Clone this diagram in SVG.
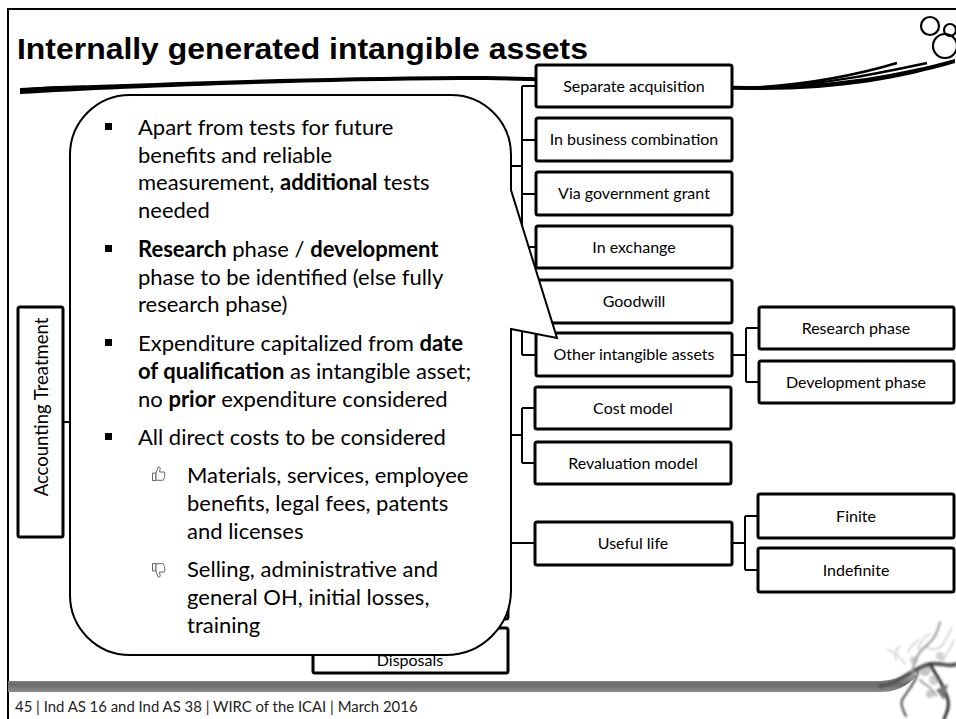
<svg xmlns="http://www.w3.org/2000/svg" width="956" height="719" viewBox="0 0 956 719">
  <defs>
    <style>
      .box{fill:#fff;stroke:#000;stroke-width:3}
      .lbl{font-family:Lato,'Liberation Sans',sans-serif;font-size:16px;fill:#000;text-anchor:middle}
      .root{font-size:18.5px}
      .conn{fill:none;stroke:#000;stroke-width:2}
      .body{font-family:Lato,'Liberation Sans',sans-serif;font-size:22px;fill:#000}
      .b{font-weight:bold}
      .icon{fill:#fff;stroke:#555;stroke-width:0.9;stroke-linejoin:round}
      .twig{fill:none;stroke-linecap:round}
    </style>
    <linearGradient id="barGrad" x1="0" y1="0" x2="0" y2="1">
      <stop offset="0" stop-color="#cfcfcf"/>
      <stop offset="0.3" stop-color="#9a9a9a"/>
      <stop offset="0.65" stop-color="#6a6a6a"/>
      <stop offset="1" stop-color="#8c8c8c"/>
    </linearGradient>
    <filter id="soft" x="-10%" y="-10%" width="120%" height="120%">
      <feGaussianBlur stdDeviation="0.9"/>
    </filter>
    <g id="thumb">
      <path class="icon" d="M0.5,7 H4 V14.5 H0.5 Z"/>
      <path class="icon" d="M4,7 L6,1.2 Q7.6,0 8.2,2 L7.6,6 H12 Q13.6,6.6 12.6,8 Q13.6,9.1 12.4,10.2 Q13.3,11.5 11.9,12.3 Q12.5,13.8 10.8,14.3 H5 Q4,14 4,13 Z"/>
    </g>
  </defs>

  <rect width="956" height="719" fill="#fff"/>

  <!-- slide frame -->
  <path d="M8,719 V9 H956" fill="none" stroke="#000" stroke-width="2"/>

  <!-- title -->
  <text x="17" y="59" font-family="'Liberation Sans',Arial,sans-serif" font-weight="bold" font-size="30" textLength="571" lengthAdjust="spacingAndGlyphs">Internally generated intangible assets</text>

  <!-- brush swoosh under the title -->
  <g id="swoosh">
    <path d="M20,88 C120,84 300,77 460,76 C600,76 680,86 760,86 C840,85 900,74 955,59 L955,63 C900,79 840,90 760,90 C680,90 600,80 460,80 C300,81 120,88 20,94 Z" fill="#000"/>
    <path d="M22,90 C40,88 60,87 85,87" stroke="#000" stroke-width="3" fill="none"/>
    <path d="M745,88 C810,85 860,74 897,63" stroke="#000" stroke-width="2.5" fill="none"/>
    <path d="M760,88 C830,84 885,72 927,63" stroke="#000" stroke-width="2.5" fill="none"/>
  </g>

  <!-- corner logo -->
  <g id="logo" fill="none" stroke="#000" stroke-width="2.2">
    <circle cx="930" cy="26" r="9"/>
    <circle cx="950" cy="30" r="6"/>
    <circle cx="945" cy="46" r="12"/>
  </g>

  <!-- connectors -->
  <g id="connectors" class="conn">
    <!-- Accounting Treatment to second level -->
    <path d="M63,422 H188 M188,166 V650 M188,166 H313 M188,435 H313 M188,543 H313 M188,596 H313 M188,650 H313"/>
    <!-- acquisition branch -->
    <path d="M508,166 H522 M522,86 V355 M522,86 H536 M522,140 H536 M522,194 H536 M522,247 H536 M522,301 H536 M522,355 H536"/>
    <!-- other intangible assets to phases -->
    <path d="M732,355 H746 M746,328 V382 M746,328 H759 M746,382 H759"/>
    <!-- measurement models -->
    <path d="M508,435 H522 M522,408 V463 M522,408 H535 M522,463 H535"/>
    <!-- useful life -->
    <path d="M508,543 H535 M732,543 H745 M745,516 V570 M745,516 H758 M745,570 H758"/>
  </g>

  <!-- accounting treatment (root) -->
  <g id="node-accounting-treatment">
    <rect class="box" x="18" y="307" width="45" height="230" rx="2"/>
    <text class="lbl root" transform="translate(48,407) rotate(-90)">Accounting Treatment</text>
  </g>

  <!-- second level -->
  <g id="node-recognition"><rect class="box" x="313" y="144" width="195" height="45" rx="2"/></g>
  <g id="node-measurement"><rect class="box" x="313" y="413" width="195" height="45" rx="2"/></g>
  <g id="node-amortisation"><rect class="box" x="313" y="521" width="195" height="45" rx="2"/></g>
  <g id="node-impairment"><rect class="box" x="313" y="574" width="195" height="45" rx="2"/></g>
  <g id="node-disposals">
    <rect class="box" x="313" y="628" width="195" height="45" rx="2"/>
    <text class="lbl" x="410" y="666">Disposals</text>
  </g>

  <!-- third level -->
  <g id="node-separate-acquisition">
    <rect class="box" x="536" y="65" width="196" height="42" rx="2"/>
    <text class="lbl" x="634" y="91.5">Separate acquisition</text>
  </g>
  <g id="node-business-combination">
    <rect class="box" x="536" y="118" width="196" height="43" rx="2"/>
    <text class="lbl" x="634" y="145">In business combination</text>
  </g>
  <g id="node-government-grant">
    <rect class="box" x="536" y="172" width="196" height="43" rx="2"/>
    <text class="lbl" x="634" y="199">Via government grant</text>
  </g>
  <g id="node-exchange">
    <rect class="box" x="536" y="226" width="196" height="42" rx="2"/>
    <text class="lbl" x="634" y="252.5">In exchange</text>
  </g>
  <g id="node-goodwill">
    <rect class="box" x="536" y="280" width="196" height="43" rx="2"/>
    <text class="lbl" x="634" y="307">Goodwill</text>
  </g>
  <g id="node-other-intangibles">
    <rect class="box" x="536" y="333" width="196" height="43" rx="2"/>
    <text class="lbl" x="634" y="360">Other intangible assets</text>
  </g>
  <g id="node-cost-model">
    <rect class="box" x="535" y="387" width="196" height="42" rx="2"/>
    <text class="lbl" x="633" y="413.5">Cost model</text>
  </g>
  <g id="node-revaluation-model">
    <rect class="box" x="535" y="442" width="196" height="42" rx="2"/>
    <text class="lbl" x="633" y="468.5">Revaluation model</text>
  </g>
  <g id="node-useful-life">
    <rect class="box" x="535" y="522" width="197" height="43" rx="2"/>
    <text class="lbl" x="633" y="549">Useful life</text>
  </g>

  <!-- fourth level -->
  <g id="node-research-phase">
    <rect class="box" x="759" y="307" width="195" height="42" rx="2"/>
    <text class="lbl" x="856" y="333.5">Research phase</text>
  </g>
  <g id="node-development-phase">
    <rect class="box" x="759" y="361" width="195" height="42" rx="2"/>
    <text class="lbl" x="856" y="387.5">Development phase</text>
  </g>
  <g id="node-finite">
    <rect class="box" x="758" y="494" width="196" height="44" rx="2"/>
    <text class="lbl" x="856" y="521.5">Finite</text>
  </g>
  <g id="node-indefinite">
    <rect class="box" x="758" y="548" width="196" height="44" rx="2"/>
    <text class="lbl" x="856" y="575.5">Indefinite</text>
  </g>

  <!-- callout bubble -->
  <g id="callout">
    <path d="M130,95 H451 A60,60 0 0 1 511,155 V190 L557,338 L511,329 V590 A65,65 0 0 1 446,655 H130 A60,60 0 0 1 70,595 V155 A60,60 0 0 1 130,95 Z" fill="#fff" stroke="#000" stroke-width="2"/>
    <g fill="#000">
      <rect x="105" y="123" width="7" height="7"/>
      <rect x="105" y="245" width="7" height="7"/>
      <rect x="105" y="339" width="7" height="7"/>
      <rect x="105" y="433" width="7" height="7"/>
    </g>
    <use href="#thumb" transform="translate(152,466)"/>
    <use href="#thumb" transform="translate(152,578) scale(1,-1)"/>
    <text class="body" x="138" y="135">Apart from tests for future</text>
    <text class="body" x="138" y="163">benefits and reliable</text>
    <text class="body" x="138" y="190">measurement, <tspan class="b">additional</tspan> tests</text>
    <text class="body" x="138" y="218">needed</text>
    <text class="body" x="138" y="257"><tspan class="b">Research</tspan> phase / <tspan class="b">development</tspan></text>
    <text class="body" x="138" y="285">phase to be identified (else fully</text>
    <text class="body" x="138" y="312">research phase)</text>
    <text class="body" x="138" y="351">Expenditure capitalized from <tspan class="b">date</tspan></text>
    <text class="body" x="138" y="379"><tspan class="b">of qualification</tspan> as intangible asset;</text>
    <text class="body" x="138" y="407">no <tspan class="b">prior</tspan> expenditure considered</text>
    <text class="body" x="138" y="445">All direct costs to be considered</text>
    <text class="body" x="187" y="483">Materials, services, employee</text>
    <text class="body" x="187" y="511">benefits, legal fees, patents</text>
    <text class="body" x="187" y="539">and licenses</text>
    <text class="body" x="187" y="577">Selling, administrative and</text>
    <text class="body" x="187" y="605">general OH, initial losses,</text>
    <text class="body" x="187" y="633">training</text>
  </g>

  <!-- footer bar and tree ornament -->
  <g id="footer">
    <path d="M8,681 H880 C895,680 905,676 912,670 L916,676 C908,686 896,692 880,692 H8 Z" fill="url(#barGrad)"/>
    <g filter="url(#soft)">
      <!-- faint foliage -->
      <path class="twig" d="M905,664 C900,656 895,652 888,650 M896,660 C894,654 896,648 900,646 M908,652 C910,646 914,644 918,640 M926,646 C930,650 936,650 942,646 C946,640 948,634 952,628 M940,664 C946,656 950,650 954,640 M918,650 C920,642 924,636 930,634" stroke="#cfcfcf" stroke-width="1.6"/>
      <circle cx="925" cy="670" r="6" fill="#c4c4c4"/>
      <circle cx="934" cy="680" r="5" fill="#cdcdcd"/>
      <circle cx="914" cy="660" r="4" fill="#d2d2d2"/>
      <circle cx="940" cy="656" r="4" fill="#d0d0d0"/>
      <circle cx="930" cy="694" r="4" fill="#c8c8c8"/>
      <!-- branches -->
      <path class="twig" d="M880,686 C900,684 912,668 930,664 C942,662 950,668 956,664" stroke="#555" stroke-width="4"/>
      <path class="twig" d="M912,672 C915,660 918,652 926,646 C934,640 938,632 940,622" stroke="#a0a0a0" stroke-width="2.2"/>
      <path class="twig" d="M930,664 C936,676 944,684 948,700 C950,708 946,714 944,719" stroke="#333" stroke-width="3"/>
      <path class="twig" d="M918,672 C916,682 908,690 902,700 C900,706 904,712 906,716" stroke="#555" stroke-width="2.2"/>
      <path class="twig" d="M920,680 C926,686 934,688 936,696" stroke="#999" stroke-width="1.8"/>
      <path d="M936,690 L948,684 L944,700 Z" fill="#777"/>
    </g>
    <text x="15" y="712" font-family="Lato,'Liberation Sans',sans-serif" font-size="14.9" fill="#222">45 | Ind AS 16 and Ind AS 38 | WIRC of the ICAI | March 2016</text>
  </g>
</svg>
